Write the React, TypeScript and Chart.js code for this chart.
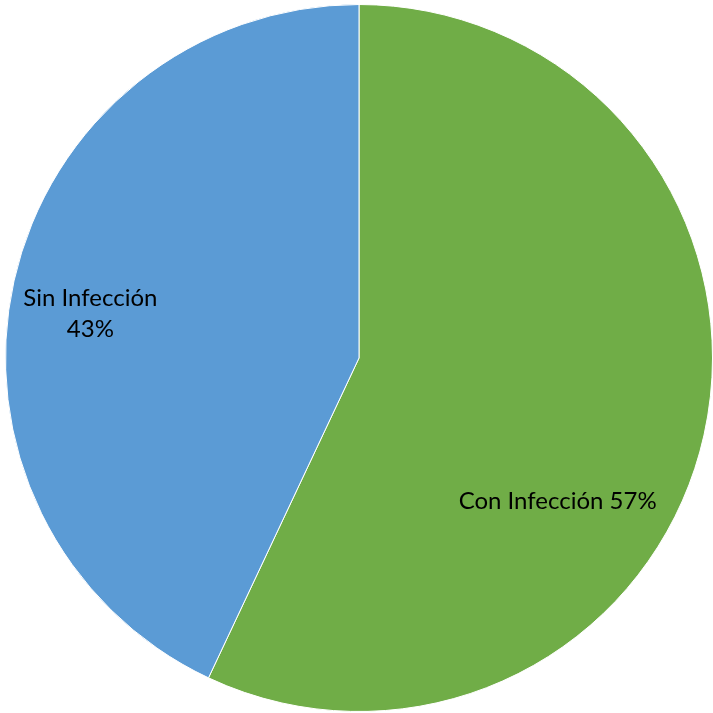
import React, { useEffect, useRef } from "react";
import { Chart, registerables } from "chart.js";

Chart.register(...registerables);

const categories = ["Con Infección", "Sin Infección"];
const values = [57, 43];
const colors = ["#70AD47", "#5B9BD5"];

const labelPlugin = {
  id: "pieLabels",
  afterDraw(chart: any) {
    const meta = chart.getDatasetMeta(0);
    const arc = meta.data[0];
    if (!arc) return;
    const { x, y, outerRadius } = arc.getProps(["x", "y", "outerRadius"], true);
    const ctx = chart.ctx;
    ctx.save();
    ctx.fillStyle = "#000000";
    ctx.font = "24px Lato, 'Open Sans', sans-serif";
    ctx.textAlign = "center";
    ctx.textBaseline = "middle";
    const total = values.reduce((a, b) => a + b, 0);
    const pct = values.map((v) => Math.round((v / total) * 100) + "%");
    ctx.fillText(`${categories[0]} ${pct[0]}`, x + outerRadius * 0.562, y + outerRadius * 0.405);
    ctx.fillText(categories[1], x - outerRadius * 0.76, y - outerRadius * 0.17);
    ctx.fillText(pct[1], x - outerRadius * 0.76, y - outerRadius * 0.082);
    ctx.restore();
  },
};

export default function App() {
  const ref = useRef<HTMLCanvasElement>(null);
  useEffect(() => {
    document.body.style.margin = "0";
    const chart = new Chart(ref.current!, {
      type: "pie",
      data: {
        labels: categories,
        datasets: [
          {
            data: values,
            backgroundColor: colors,
            borderColor: "#ffffff",
            borderWidth: 1,
          },
        ],
      },
      options: {
        responsive: false,
        animation: false,
        layout: { padding: { left: 5, right: 0, top: 4, bottom: 1 } },
        plugins: {
          legend: { display: false },
          tooltip: { enabled: false },
        },
      },
      plugins: [labelPlugin],
    });
    return () => chart.destroy();
  }, []);
  return (
    <div style={{ position: "absolute", left: 0, top: 0, width: 713, height: 713 }}>
      <canvas ref={ref} width={713} height={713} style={{ width: 713, height: 713 }} />
    </div>
  );
}
